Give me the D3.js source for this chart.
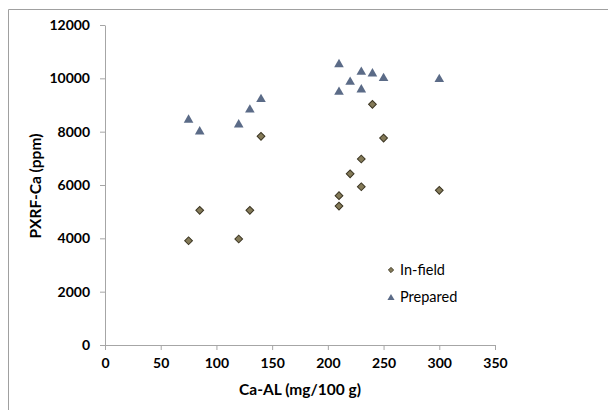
<!DOCTYPE html>
<html><head><meta charset="utf-8">
<script src="https://cdn.jsdelivr.net/npm/d3@7"></script>
<style>body{margin:0;background:#fff}svg{display:block}</style>
</head><body>
<svg id="c" width="608" height="410"></svg>
<script>
const infieldX = [75, 85, 120, 130, 140, 210, 210, 220, 230, 230, 240, 250, 300];
const infieldY = [3910, 5050, 3975, 5050, 7825, 5600, 5210, 6420, 6975, 5935, 9025, 7760, 5800];
const preparedX = [75, 85, 120, 130, 140, 210, 210, 220, 230, 230, 240, 250, 300];
const preparedY = [8480, 8040, 8300, 8860, 9250, 10560, 9525, 9900, 10275, 9613, 10213, 10038, 10000];
const xTicks = [0, 50, 100, 150, 200, 250, 300, 350];
const yTicks = [0, 2000, 4000, 6000, 8000, 10000, 12000];
const seriesNames = ["In-field", "Prepared"];

const svg = d3.select("#c");
const font = "Lato, 'Open Sans', sans-serif";
svg.append("line").attr("x1",8.5).attr("x2",608).attr("y1",9.5).attr("y2",9.5).attr("stroke","#a0a0a0");
svg.append("line").attr("x1",8.5).attr("x2",8.5).attr("y1",9.5).attr("y2",410).attr("stroke","#a0a0a0");

const x = d3.scaleLinear().domain([0,350]).range([105,495]);
const y = d3.scaleLinear().domain([0,12000]).range([345,25]);

const xa = svg.append("g").attr("transform","translate(0,345)")
  .call(d3.axisBottom(x).tickValues(xTicks).tickSize(5).tickSizeOuter(0).tickPadding(8).tickFormat(d3.format("d")));
const ya = svg.append("g").attr("transform","translate(105,0)")
  .call(d3.axisLeft(y).tickValues(yTicks).tickSize(5).tickSizeOuter(0).tickPadding(10).tickFormat(d3.format("d")));
[xa,ya].forEach(a=>{
  a.select(".domain").attr("stroke","#a6a6a6");
  a.selectAll(".tick line").attr("stroke","#a6a6a6");
  a.selectAll("text").attr("font-family",font).attr("font-weight","bold").attr("font-size","14px").attr("fill","#000");
});

svg.append("text").attr("x",300).attr("y",395).attr("text-anchor","middle")
  .attr("font-family",font).attr("font-weight","bold").attr("font-size","15.5px").text("Ca-AL (mg/100 g)");
svg.append("text").attr("transform","translate(41,186) rotate(-90)").attr("text-anchor","middle")
  .attr("font-family",font).attr("font-weight","bold").attr("font-size","15.5px").text("PXRF-Ca (ppm)");

const diamond = d3.symbol().type(d3.symbolSquare).size(30)();
const tri = d3.symbol().type(d3.symbolTriangle).size(40)();
const dFill="#847a58", dStroke="#3b3522", tFill="#5b6b87";

svg.append("g").selectAll("path").data(preparedX.map((v,i)=>[v,preparedY[i]])).join("path")
  .attr("d",tri).attr("transform",d=>`translate(${x(d[0])},${y(d[1])+1})`).attr("fill",tFill);
svg.append("g").selectAll("path").data(infieldX.map((v,i)=>[v,infieldY[i]])).join("path")
  .attr("d",diamond).attr("transform",d=>`translate(${x(d[0])},${y(d[1])}) rotate(45)`)
  .attr("fill",dFill).attr("stroke",dStroke).attr("stroke-width",1);

const lg = svg.append("g");
lg.append("path").attr("d",d3.symbol().type(d3.symbolSquare).size(14)()).attr("transform","translate(391,270) rotate(45)").attr("fill",dFill).attr("stroke",dStroke).attr("stroke-width",0.8);
lg.append("path").attr("d",d3.symbol().type(d3.symbolTriangle).size(22)()).attr("transform","translate(391,298)").attr("fill",tFill);
lg.selectAll("text").data(seriesNames).join("text").attr("x",400).attr("y",(d,i)=>270+i*27).attr("dy","0.35em")
  .attr("font-family",font).attr("font-size","14.5px").attr("fill","#000").text(d=>d);
</script>
</body></html>
